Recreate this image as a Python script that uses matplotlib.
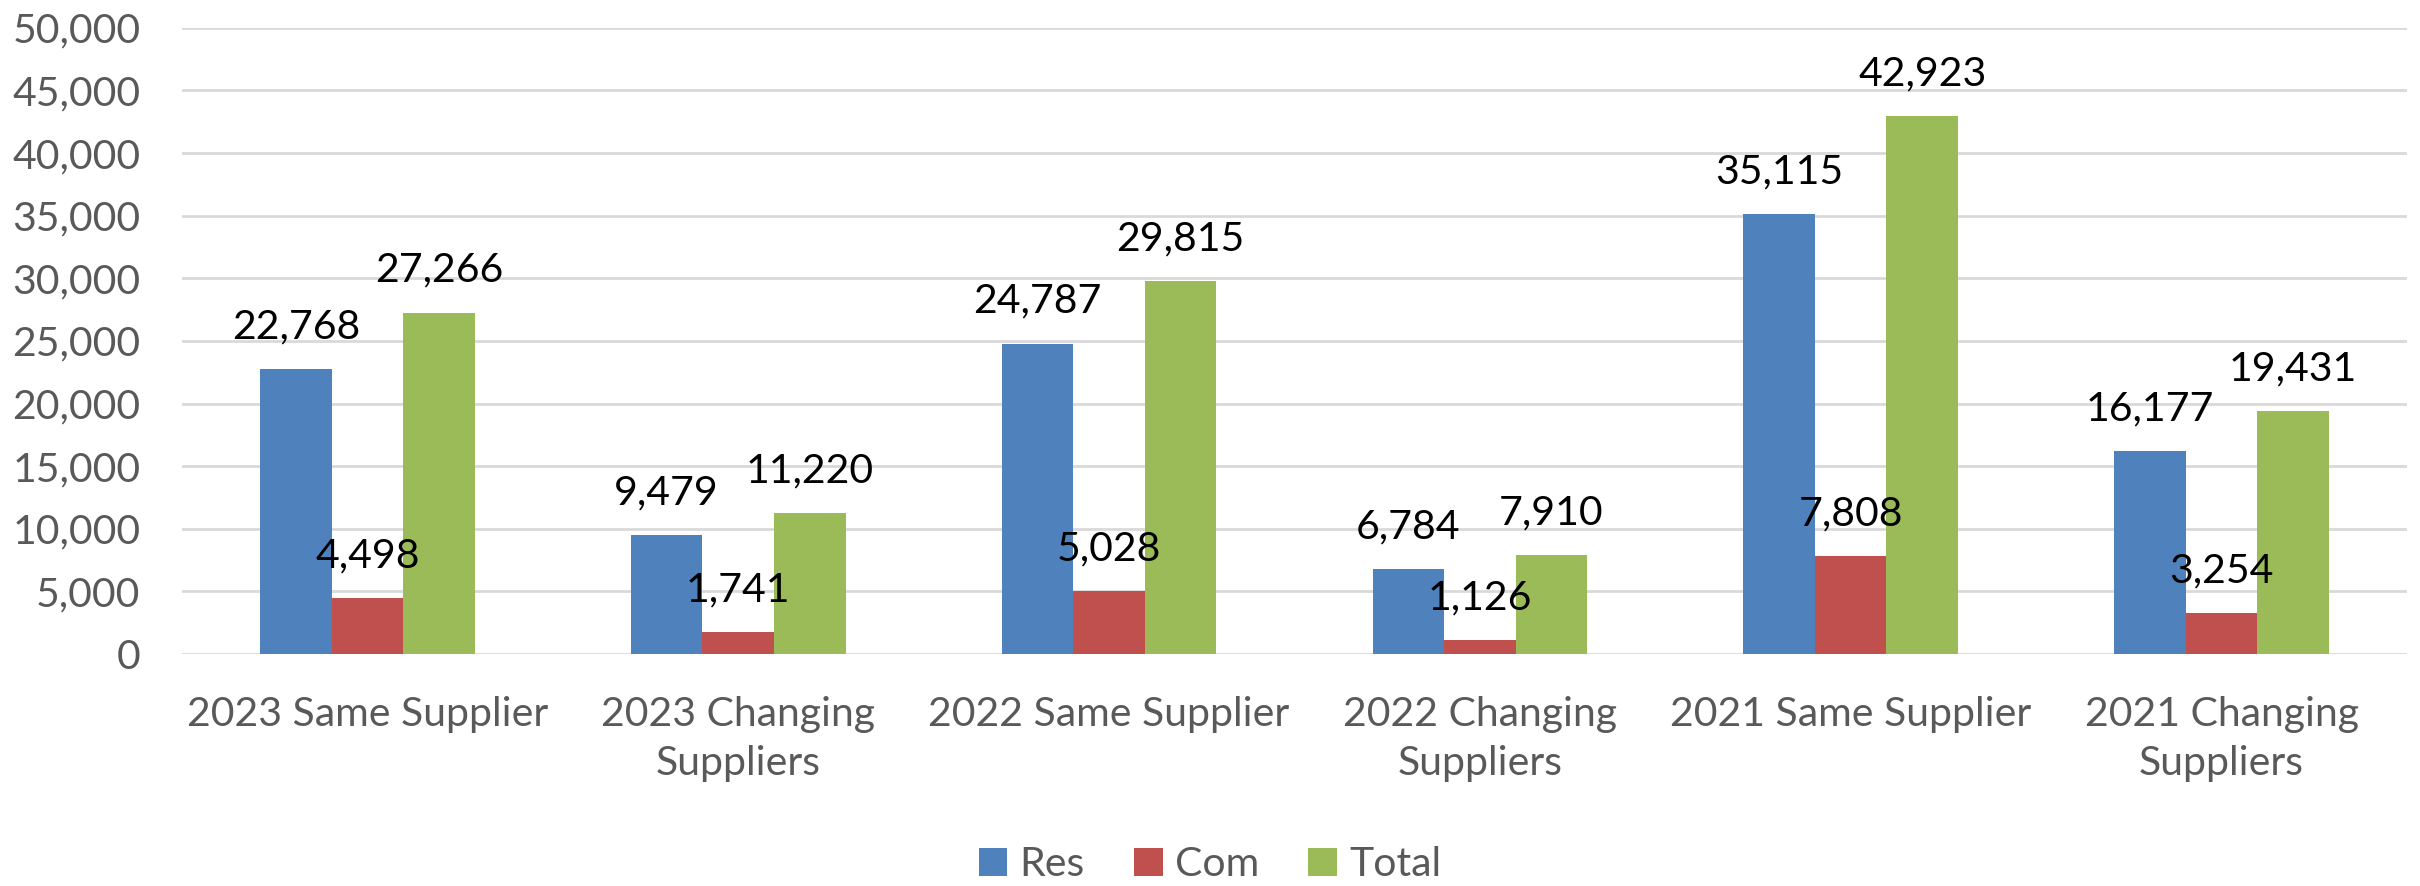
import matplotlib
matplotlib.use("Agg")
import matplotlib.pyplot as plt
import numpy as np
from matplotlib.ticker import FuncFormatter, MultipleLocator

categories = ["2023 Same Supplier", "2023 Changing\nSuppliers", "2022 Same Supplier",
              "2022 Changing\nSuppliers", "2021 Same Supplier", "2021 Changing\nSuppliers"]
series_names = ["Res", "Com", "Total"]
res = [22768, 9479, 24787, 6784, 35115, 16177]
com = [4498, 1741, 5028, 1126, 7808, 3254]
total = [27266, 11220, 29815, 7910, 42923, 19431]
colors = ["#4F81BD", "#C0504D", "#9BBB59"]

plt.rcParams['font.family'] = ['Lato', 'DejaVu Sans']

fig = plt.figure(figsize=(24.2, 8.86), dpi=100)
ax = fig.add_axes([0.0752, 0.2619, 0.9194, 0.7067])

x = np.arange(len(categories))
w = 0.193
for i, (vals, name, c) in enumerate(zip([res, com, total], series_names, colors)):
    pos = x + (i - 1) * w
    ax.bar(pos, vals, width=w, color=c, label=name, zorder=2)
    for p, v in zip(pos, vals):
        ax.annotate(f"{v:,}", (p, v), xytext=(0, 17), textcoords="offset points",
                    ha="center", va="bottom", fontsize=29.5, color="black", zorder=3)

ax.set_ylim(0, 50000)
ax.set_xlim(-0.5, len(categories) - 0.5)
ax.yaxis.set_major_locator(MultipleLocator(5000))
ax.yaxis.set_major_formatter(FuncFormatter(lambda v, p: f"{int(v):,}"))
ax.grid(axis="y", color="#D9D9D9", linewidth=2, zorder=0)
ax.set_axisbelow(True)
for s in ax.spines.values():
    s.set_visible(False)
ax.set_xticks(x)
ax.set_xticklabels(categories, linespacing=1.4)
ax.tick_params(axis="both", length=0, labelsize=29.5, labelcolor="#595959")
ax.tick_params(axis="y", pad=30)
ax.tick_params(axis="x", pad=30)

leg = fig.legend(loc="center", bbox_to_anchor=(0.5, 0.024), ncol=3, frameon=False,
                 fontsize=29.5, handlelength=0.7, handleheight=0.7, handletextpad=0.3,
                 columnspacing=1.2, labelcolor="#595959")

fig.savefig("out.png", dpi=100)
